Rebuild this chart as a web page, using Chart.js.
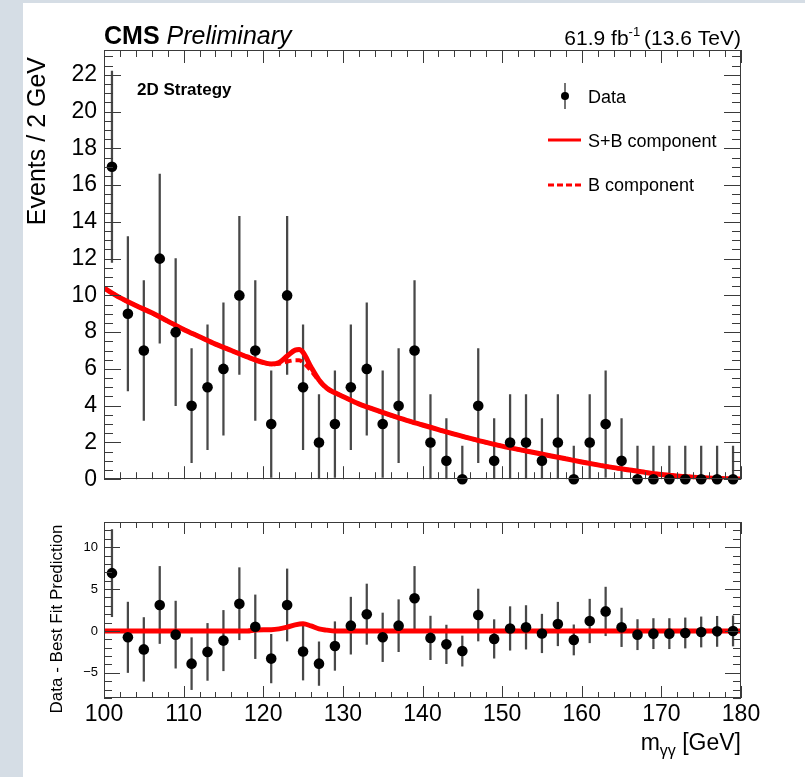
<!DOCTYPE html>
<html>
<head>
<meta charset="utf-8">
<script src="https://cdn.jsdelivr.net/npm/chart.js@4.4.1/dist/chart.umd.min.js"></script>
<style>
  html, body { margin: 0; padding: 0; background: #fff; }
  #page { position: relative; width: 805px; height: 777px; background: #fff; overflow: hidden; }
  .strip { position: absolute; background: #d5dde5; }
  canvas { position: absolute; left: 0; }
</style>
</head>
<body>
<div id="page">
  <div class="strip" style="left:0;top:0;width:23px;height:777px"></div>
  <div class="strip" style="left:0;top:0;width:805px;height:3px"></div>
  <canvas id="main_plot" width="805" height="500" style="top:0"></canvas>
  <canvas id="ratio_plot" width="805" height="277" style="top:500px"></canvas>
</div>
<script>
const FONT = "'Liberation Sans', Arial, Helvetica, sans-serif";

// DATA (2 GeV bins)
const binCentres = [101, 103, 105, 107, 109, 111, 113, 115, 117, 119,
                    121, 123, 125, 127, 129, 131, 133, 135, 137, 139,
                    141, 143, 145, 147, 149, 151, 153, 155, 157, 159,
                    161, 163, 165, 167, 169, 171, 173, 175, 177, 179];
const dataCounts = [17, 9, 7, 12, 8, 4, 5, 6, 10, 7,
                    3, 10, 5, 2, 3, 5, 6, 3, 4, 7,
                    2, 1, 0, 4, 1, 2, 2, 1, 2, 0,
                    2, 3, 1, 0, 0, 0, 0, 0, 0, 0];
const dataErrors = [5.2, 4.2, 3.8, 4.6, 4.0, 3.1, 3.4, 3.6, 4.3, 3.8,
                    2.9, 4.3, 3.4, 2.6, 2.9, 3.4, 3.6, 2.9, 3.1, 3.8,
                    2.6, 2.3, 1.8, 3.1, 2.3, 2.6, 2.6, 2.3, 2.6, 1.8,
                    2.6, 2.9, 2.3, 1.8, 1.8, 1.8, 1.8, 1.8, 1.8, 1.8];
const dataResiduals = [6.9, -0.76, -2.2, 3.1, -0.44, -3.9, -2.5, -1.15, 3.25, 0.5,
                       -3.3, 3.1, -2.46, -3.9, -1.8, 0.63, 2.0, -0.76, 0.63, 3.9,
                       -0.83, -1.6, -2.4, 1.9, -0.95, 0.3, 0.43, -0.3, 0.83, -1.07,
                       1.19, 2.33, 0.43, -0.44, -0.32, -0.32, -0.24, -0.12, -0.05, 0.0];

// fit curves
const fitMass = [100, 102, 104, 106, 108, 110, 112, 114, 116, 118, 120,
                 121, 122, 123, 124, 124.5, 125, 126, 127, 128, 129, 130,
                 132, 134, 136, 138, 140, 142, 144, 146, 148, 150,
                 152, 154, 156, 158, 160, 162, 164, 166, 168, 170,
                 172, 174, 176, 178, 180];
const sbFit = [10.4, 9.88, 9.45, 9.05, 8.6, 8.15, 7.75, 7.35, 7.0, 6.65, 6.35,
               6.27, 6.35, 6.7, 7.02, 7.05, 6.9, 6.1, 5.4, 4.95, 4.7, 4.5,
               4.1, 3.78, 3.48, 3.2, 2.95, 2.7, 2.45, 2.22, 2.0, 1.8,
               1.62, 1.45, 1.28, 1.11, 0.94, 0.78, 0.63, 0.5, 0.37, 0.26,
               0.18, 0.11, 0.06, 0.03, 0.01];
const bFit = [10.4, 9.88, 9.45, 9.05, 8.6, 8.15, 7.75, 7.35, 7.0, 6.65, 6.35,
              6.25, 6.28, 6.4, 6.47, 6.47, 6.35, 5.9, 5.35, 4.93, 4.7, 4.5,
              4.1, 3.78, 3.48, 3.2, 2.95, 2.7, 2.45, 2.22, 2.0, 1.8,
              1.62, 1.45, 1.28, 1.11, 0.94, 0.78, 0.63, 0.5, 0.37, 0.26,
              0.18, 0.11, 0.06, 0.03, 0.01];
const sigMass = [100, 118, 119, 121, 122, 123, 124, 125, 126, 127, 128, 129, 180];
const sigFit = [0, 0, 0.12, 0.15, 0.25, 0.45, 0.72, 0.85, 0.6, 0.25, 0.1, 0, 0];

// tick labels
const massTicks = [100, 110, 120, 130, 140, 150, 160, 170, 180];
const eventTicks = [0, 2, 4, 6, 8, 10, 12, 14, 16, 18, 20, 22];
const residualTicks = [-5, 0, 5, 10];

Chart.defaults.color = '#000';
Chart.defaults.font.family = FONT;

// ROOT style frame with inward ticks on all four sides
function rootFrame(t) {
  return {
    id: 'rootFrame',
    afterDatasetsDraw(chart) {
      const {ctx, chartArea: a} = chart;
      const x = chart.scales.x, y = chart.scales.y;
      ctx.save();
      ctx.strokeStyle = '#3a3a3a';
      ctx.lineWidth = 1;
      ctx.beginPath();
      const nx = Math.round((x.max - x.min) / t.xMinor);
      for (let i = 0; i <= nx; i++) {
        const px = Math.round(x.getPixelForValue(x.min + i * t.xMinor)) + 0.5;
        const len = (i % t.xPer === 0) ? t.xLong : t.xShort;
        ctx.moveTo(px, a.bottom); ctx.lineTo(px, a.bottom - len);
        ctx.moveTo(px, a.top); ctx.lineTo(px, a.top + len);
      }
      const k0 = Math.ceil(y.min / t.yMinor - 1e-9), k1 = Math.floor(y.max / t.yMinor + 1e-9);
      for (let k = k0; k <= k1; k++) {
        const py = Math.round(y.getPixelForValue(k * t.yMinor)) + 0.5;
        const len = (k % t.yPer === 0) ? t.yLong : t.yShort;
        ctx.moveTo(a.left, py); ctx.lineTo(a.left + len, py);
        ctx.moveTo(a.right, py); ctx.lineTo(a.right - len, py);
      }
      ctx.stroke();
      ctx.strokeRect(Math.round(a.left) + 0.5, Math.round(a.top) + 0.5,
                     Math.round(a.width) - 1, Math.round(a.height) - 1);
      ctx.restore();
    }
  };
}

const mainLabels = {
  id: 'mainLabels',
  afterDraw(chart) {
    const ctx = chart.ctx, a = chart.chartArea;
    ctx.save();
    ctx.fillStyle = '#000';
    ctx.textBaseline = 'alphabetic';
    ctx.textAlign = 'left';

    // header
    ctx.font = 'bold 25px ' + FONT;
    ctx.fillText('CMS', a.left, 44);
    const wCms = ctx.measureText('CMS ').width;
    ctx.font = 'italic 25px ' + FONT;
    ctx.fillText('Preliminary', a.left + wCms, 44);

    ctx.font = '21px ' + FONT;
    const p1 = '61.9 fb', p3 = '(13.6 TeV)';
    const w1 = ctx.measureText(p1).width, w3 = ctx.measureText(p3).width;
    ctx.font = '13px ' + FONT;
    const p2 = '-1';
    const w2 = ctx.measureText(p2).width + 4;
    let x0 = a.right - (w1 + w2 + w3);
    ctx.font = '21px ' + FONT;
    ctx.fillText(p1, x0, 45);
    ctx.font = '13px ' + FONT;
    ctx.fillText(p2, x0 + w1, 36);
    ctx.font = '21px ' + FONT;
    ctx.fillText(p3, x0 + w1 + w2, 45);

    ctx.font = 'bold 17px ' + FONT;
    ctx.fillText('2D Strategy', 137, 95);

    // legend
    ctx.strokeStyle = '#444';
    ctx.lineWidth = 1.5;
    ctx.beginPath(); ctx.moveTo(565, 83); ctx.lineTo(565, 109); ctx.stroke();
    ctx.fillStyle = '#000';
    ctx.beginPath(); ctx.arc(565, 96, 4, 0, Math.PI * 2); ctx.fill();
    ctx.strokeStyle = '#ff0000';
    ctx.lineWidth = 3;
    ctx.beginPath(); ctx.moveTo(548, 140); ctx.lineTo(581, 140); ctx.stroke();
    ctx.setLineDash([6, 3]);
    ctx.beginPath(); ctx.moveTo(548, 185); ctx.lineTo(581, 185); ctx.stroke();
    ctx.setLineDash([]);
    ctx.font = '18px ' + FONT;
    ctx.fillText('Data', 588, 103);
    ctx.fillText('S+B component', 588, 147);
    ctx.fillText('B component', 588, 191);

    // y title
    ctx.font = '25px ' + FONT;
    ctx.translate(38, 57);
    ctx.rotate(-Math.PI / 2);
    ctx.textAlign = 'right';
    ctx.textBaseline = 'middle';
    ctx.fillText('Events / 2 GeV', 0, 0);
    ctx.restore();
  }
};

const ratioLabels = {
  id: 'ratioLabels',
  afterDraw(chart) {
    const ctx = chart.ctx, a = chart.chartArea;
    ctx.save();
    ctx.fillStyle = '#000';
    ctx.textAlign = 'left';
    ctx.textBaseline = 'alphabetic';
    ctx.font = '23px ' + FONT;
    const wm = ctx.measureText('m').width, wr = ctx.measureText(' [GeV]').width;
    ctx.font = '16px ' + FONT;
    const wg = ctx.measureText('γγ').width;
    const x0 = a.right - (wm + wg + wr);
    ctx.font = '23px ' + FONT;
    ctx.fillText('m', x0, 250);
    ctx.fillText(' [GeV]', x0 + wm + wg, 250);
    ctx.font = '16px ' + FONT;
    ctx.fillText('γγ', x0 + wm, 256);

    ctx.font = '17px ' + FONT;
    ctx.translate(57, 119);
    ctx.rotate(-Math.PI / 2);
    ctx.textAlign = 'center';
    ctx.textBaseline = 'middle';
    ctx.fillText('Data - Best Fit Prediction', 0, 0);
    ctx.restore();
  }
};

function plotMain() {
  const ctx = document.getElementById('main_plot');
  window.main_plot = new Chart(ctx, {
    type: 'scatter',
    data: {
      datasets: [{
        type: 'scatter',
        label: 'Data',
        data: binCentres.map((m, i) => ({x: m, y: dataCounts[i]})),
        pointRadius: 5.3,
        pointHoverRadius: 5.3,
        backgroundColor: '#000',
        borderWidth: 0,
        clip: false,
        order: 0
      }, {
        type: 'line',
        label: 'S+B component',
        data: fitMass.map((m, i) => ({x: m, y: sbFit[i]})),
        borderColor: '#ff0000',
        borderWidth: 5,
        pointRadius: 0,
        fill: false,
        cubicInterpolationMode: 'monotone',
        order: 1
      }, {
        type: 'line',
        label: 'B component',
        data: fitMass.map((m, i) => ({x: m, y: bFit[i]})),
        borderColor: '#ff0000',
        borderWidth: 4,
        borderDash: [7, 4],
        pointRadius: 0,
        fill: false,
        cubicInterpolationMode: 'monotone',
        order: 2
      }, {
        type: 'bar',
        label: 'errors',
        data: binCentres.map((m, i) => ({x: m, y: [Math.max(0, dataCounts[i] - dataErrors[i]), dataCounts[i] + dataErrors[i]]})),
        backgroundColor: '#484848',
        borderWidth: 0,
        barThickness: 1.6,
        order: 3
      }]
    },
    options: {
      responsive: false,
      animation: false,
      events: [],
      layout: {padding: {left: 0, top: 50, right: 64, bottom: 19}},
      plugins: {legend: {display: false}, tooltip: {enabled: false}},
      scales: {
        x: {type: 'linear', display: false, min: 100, max: 180, offset: false},
        y: {
          type: 'linear', min: 0, max: 23.35,
          grid: {display: false, drawTicks: false}, border: {display: false},
          afterFit: s => { s.width = 104; },
          afterBuildTicks: s => { s.ticks = eventTicks.map(v => ({value: v})); },
          ticks: {padding: 7, color: '#000', font: {family: FONT, size: 23}}
        }
      }
    },
    plugins: [rootFrame({xMinor: 2, xPer: 5, xLong: 13, xShort: 7, yMinor: 0.5, yPer: 4, yLong: 17, yShort: 9}), mainLabels]
  });
}

function plotRatio() {
  const ctx = document.getElementById('ratio_plot');
  window.ratio_plot = new Chart(ctx, {
    type: 'scatter',
    data: {
      datasets: [{
        type: 'scatter',
        label: 'Residuals',
        data: binCentres.map((m, i) => ({x: m, y: dataResiduals[i]})),
        pointRadius: 5.3,
        pointHoverRadius: 5.3,
        backgroundColor: '#000',
        borderWidth: 0,
        clip: false,
        order: 0
      }, {
        type: 'line',
        label: 'Signal',
        data: sigMass.map((m, i) => ({x: m, y: sigFit[i]})),
        borderColor: '#ff0000',
        borderWidth: 5,
        pointRadius: 0,
        fill: false,
        cubicInterpolationMode: 'monotone',
        order: 1
      }, {
        type: 'bar',
        label: 'errors',
        data: binCentres.map((m, i) => ({x: m, y: [dataResiduals[i] - dataErrors[i], dataResiduals[i] + dataErrors[i]]})),
        backgroundColor: '#484848',
        borderWidth: 0,
        barThickness: 1.6,
        order: 2
      }]
    },
    options: {
      responsive: false,
      animation: false,
      events: [],
      layout: {padding: {left: 0, top: 22, right: 64, bottom: 0}},
      plugins: {legend: {display: false}, tooltip: {enabled: false}},
      scales: {
        x: {
          type: 'linear', min: 100, max: 180, offset: false,
          grid: {display: false, drawTicks: false}, border: {display: false},
          afterFit: s => { s.height = 79; },
          afterBuildTicks: s => { s.ticks = massTicks.map(v => ({value: v})); },
          ticks: {padding: 3, autoSkip: false, maxRotation: 0, color: '#000', font: {family: FONT, size: 23}}
        },
        y: {
          type: 'linear', min: -8, max: 13,
          grid: {display: false, drawTicks: false}, border: {display: false},
          afterFit: s => { s.width = 104; },
          afterBuildTicks: s => { s.ticks = residualTicks.map(v => ({value: v})); },
          ticks: {
            padding: 6, color: '#000', font: {family: FONT, size: 13},
            callback: v => v < 0 ? '\u2212' + Math.abs(v) : String(v)
          }
        }
      }
    },
    plugins: [rootFrame({xMinor: 2, xPer: 5, xLong: 12, xShort: 6, yMinor: 1, yPer: 5, yLong: 16, yShort: 8}), ratioLabels]
  });
}

function init() {
  plotMain();
  plotRatio();
}
window.onload = init;
</script>
</body>
</html>
